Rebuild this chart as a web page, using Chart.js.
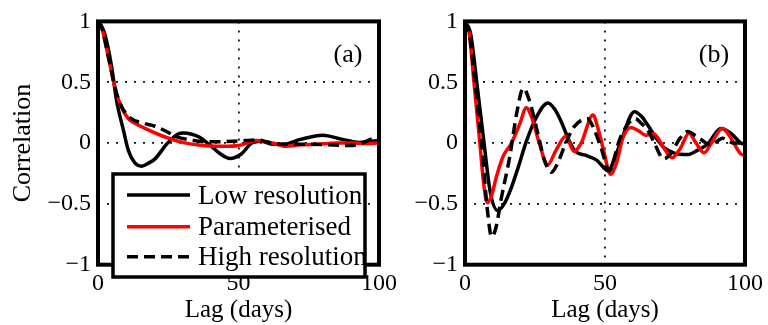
<!DOCTYPE html>
<html lang="en">
<head>
<meta charset="UTF-8">
<title>Correlation vs lag</title>
<script src="https://cdn.jsdelivr.net/npm/chart.js"></script>
<style>
    body { margin: 0; background: #fff; }
    .janela { position: relative; width: 768px; height: 325px; overflow: hidden; }
    #chartA { position: absolute; left: 0; top: 0; }
    #chartB { position: absolute; left: 400px; top: 0; }
</style>
</head>
<body>
<div class="janela">
    <canvas id="chartA" width="420" height="325"></canvas>
    <canvas id="chartB" width="368" height="325"></canvas>
</div>
<script>
    // nomes das series (ordem da legenda)
    const seriesNames = ['Low resolution', 'Parameterised', 'High resolution'];

    // ticks dos eixos
    const xTicks = [0, 50, 100];
    const yTicks = [-1, -0.5, 0, 0.5, 1];
    const yTickText = ['\u22121', '\u22120.5', '0', '0.5', '1'];

    // painel (a)
    const lowLagA = [0, 1.3, 2.5, 4.9, 6.6, 9, 10.8, 13, 15.5, 18, 20.3, 24.4, 28.6, 30.5, 33, 36, 40, 43, 47, 51, 54.7, 58, 62, 66, 72, 80, 87, 93, 100];
    const lowA = [1, 0.96, 0.89, 0.62, 0.35, 0.11, -0.06, -0.16, -0.19, -0.165, -0.13, -0.01, 0.076, 0.082, 0.075, 0.05, -0.02, -0.08, -0.127, -0.09, 0, 0.015, -0.01, -0.01, 0.03, 0.065, 0.03, 0.005, 0.02];

    const redLagA = [0, 1.3, 3.7, 6, 7.8, 10.8, 13, 16.7, 22.7, 28.6, 34.5, 40, 45, 50, 53, 56.5, 62, 67, 72, 78, 85, 90, 95, 100];
    const redA = [1, 0.95, 0.705, 0.46, 0.325, 0.2, 0.165, 0.12, 0.06, 0.014, -0.013, -0.025, -0.027, -0.02, 0, 0.02, 0, -0.027, -0.015, -0.01, 0, 0, -0.005, 0];

    const highLagA = [0, 1.3, 3.7, 6, 7.8, 10.8, 16.7, 20, 24.4, 28, 32.7, 39, 48, 52, 57, 60, 64, 71, 80, 89, 93, 97.4, 100];
    const highA = [1, 0.95, 0.71, 0.46, 0.33, 0.22, 0.16, 0.14, 0.095, 0.05, 0.027, 0.01, 0.014, 0.02, 0.025, 0.01, -0.01, -0.01, -0.012, -0.02, -0.01, 0.035, 0.05];

    // painel (b)
    const lowLagB = [0, 2, 4.2, 6.8, 9, 11.7, 14, 16, 19, 21.7, 25, 29.6, 32, 34.3, 37, 39.5, 43, 47, 51.3, 53, 55.8, 60.5, 63, 65.2, 68, 71.2, 75, 79.5, 83, 86.6, 91.4, 95, 98.5, 100];
    const lowB = [1, 0.9, 0.5, 0, -0.4, -0.555, -0.5, -0.4, -0.2, 0, 0.19, 0.33, 0.28, 0.18, 0.03, -0.07, -0.1, -0.14, -0.23, -0.15, 0.02, 0.258, 0.22, 0.15, 0.05, -0.04, -0.085, -0.095, -0.06, -0.01, 0.12, 0.08, 0, -0.01];

    const redLagB = [0, 1.5, 3.2, 5.3, 6.8, 8, 9.5, 11.3, 13.6, 16.6, 19.6, 21.9, 24, 26.5, 29.5, 32.5, 36, 39, 41.5, 45.7, 47.5, 49.3, 52, 54, 56.5, 59.3, 62, 64.5, 67.5, 71, 74, 77, 80, 82.5, 85.4, 88, 91.9, 95, 98.5, 100];
    const redB = [1, 0.9, 0.5, 0, -0.36, -0.49, -0.43, -0.27, -0.11, 0, 0.16, 0.29, 0.2, 0, -0.18, -0.06, 0.055, -0.07, 0, 0.23, 0.12, -0.04, -0.257, -0.17, 0.05, 0.128, 0.1, 0.065, 0.075, -0.04, -0.12, -0.04, 0.08, 0, -0.08, 0, 0.12, 0.04, -0.09, -0.1];

    const highLagB = [0, 1.5, 3.6, 5.9, 8, 9.5, 11, 13, 16, 18.5, 20.8, 23, 26.1, 28.5, 30.9, 33, 36, 39, 43.8, 46, 48.6, 51.6, 53, 55, 58, 60.9, 63, 65.6, 68, 71, 74, 76.5, 79.5, 83, 87.8, 92, 96, 100];
    const highB = [1, 0.9, 0.5, 0, -0.55, -0.77, -0.7, -0.45, -0.11, 0.25, 0.45, 0.35, 0.07, -0.15, -0.24, -0.17, 0, 0.135, 0.2, 0.12, -0.04, -0.23, -0.15, 0.015, 0.15, 0.2, 0.16, 0.095, -0.02, -0.13, -0.07, 0.03, 0.095, 0.05, -0.015, 0.04, 0, 0];

    Chart.defaults.font.family = "'Liberation Serif', 'Times New Roman', serif";
    Chart.defaults.color = '#000';

    const estilos = [
        { borderColor: '#000000', borderDash: [], order: 2 },
        { borderColor: '#ff0000', borderDash: [], order: 1 },
        { borderColor: '#000000', borderDash: [11, 6], order: 0 }
    ];

    function montarDatasets(lags, valores) {
        return seriesNames.map(function (nome, i) {
            return {
                label: nome,
                data: lags[i].map((x, k) => ({ x: x, y: valores[i][k] })),
                borderColor: estilos[i].borderColor,
                borderDash: estilos[i].borderDash,
                order: estilos[i].order,
                borderWidth: 3.5,
                pointRadius: 0,
                fill: false,
                cubicInterpolationMode: 'monotone'
            };
        });
    }

    // moldura preta grossa + letra do painel
    const moldura = {
        id: 'moldura',
        afterDatasetsDraw(chart, args, opts) {
            const { ctx, chartArea: a } = chart;
            ctx.save();
            ctx.strokeStyle = '#000';
            ctx.lineWidth = 4;
            ctx.strokeRect(a.left, a.top, a.right - a.left, a.bottom - a.top);
            ctx.fillStyle = '#000';
            ctx.font = "26px 'Liberation Serif'";
            ctx.textAlign = 'center';
            ctx.textBaseline = 'middle';
            ctx.fillText(opts.letra, a.right - 31, a.top + 34);
            ctx.restore();
        }
    };

    // legenda desenhada dentro do painel (a)
    const legendaBox = {
        id: 'legendaBox',
        afterDraw(chart, args, opts) {
            if (!opts.mostrar) return;
            const ctx = chart.ctx;
            const x0 = 113, y0 = 174, x1 = 365, y1 = 277;
            const linhas = [195, 226.7, 256.7];
            ctx.save();
            ctx.fillStyle = '#fff';
            ctx.fillRect(x0, y0, x1 - x0, y1 - y0);
            ctx.save();
            ctx.beginPath();
            ctx.rect(x0, y0, x1 - x0, y1 - y0);
            ctx.clip();
            seriesNames.forEach(function (nome, i) {
                ctx.strokeStyle = estilos[i].borderColor;
                ctx.lineWidth = 3.5;
                ctx.setLineDash(estilos[i].borderDash);
                ctx.beginPath();
                ctx.moveTo(127, linhas[i]);
                ctx.lineTo(190, linhas[i]);
                ctx.stroke();
                ctx.setLineDash([]);
                ctx.fillStyle = '#000';
                ctx.font = "27px 'Liberation Serif'";
                ctx.textAlign = 'left';
                ctx.textBaseline = 'alphabetic';
                ctx.fillText(nome, 198, linhas[i] + 8.5);
            });
            ctx.restore();
            ctx.strokeStyle = '#000';
            ctx.lineWidth = 3.5;
            ctx.strokeRect(x0, y0, x1 - x0, y1 - y0);
            ctx.restore();
        }
    };

    function escalas(larguraY, tituloY) {
        return {
            x: {
                type: 'linear',
                min: 0,
                max: 100,
                afterBuildTicks: s => { s.ticks = xTicks.map(v => ({ value: v })); },
                afterFit: s => { s.height = 60.3; },
                ticks: { font: { size: 24 }, color: '#000', padding: 5, maxRotation: 0, callback: v => String(v) },
                grid: { color: '#111', lineWidth: 1.8, drawTicks: false },
                border: { display: false, dash: [2, 7] },
                title: { display: true, text: 'Lag (days)', font: { size: 25 }, color: '#000', padding: { top: 0, bottom: 0 } }
            },
            y: {
                type: 'linear',
                min: -1,
                max: 1,
                afterBuildTicks: s => { s.ticks = yTicks.map(v => ({ value: v })); },
                afterFit: s => { s.width = larguraY; },
                ticks: { font: { size: 24 }, color: '#000', padding: 7, callback: v => yTickText[yTicks.indexOf(v)] },
                grid: { color: '#111', lineWidth: 1.8, drawTicks: false },
                border: { display: false, dash: [2, 7] },
                title: { display: tituloY, text: 'Correlation', font: { size: 26 }, color: '#000', padding: { top: 8, bottom: 0 } }
            }
        };
    }

    function plotarPainel(id, lags, valores, letra, larguraY, tituloY, padDir, comLegenda) {
        return new Chart(document.getElementById(id), {
            type: 'line',
            data: { datasets: montarDatasets(lags, valores) },
            options: {
                responsive: false,
                animation: false,
                devicePixelRatio: 1,
                layout: { padding: { left: 0, top: 18.7, right: padDir, bottom: 0 } },
                scales: escalas(larguraY, tituloY),
                plugins: {
                    legend: { display: false },
                    tooltip: { enabled: false },
                    moldura: { letra: letra },
                    legendaBox: { mostrar: comLegenda }
                }
            },
            plugins: [moldura, legendaBox]
        });
    }

    plotarPainel('chartA', [lowLagA, redLagA, highLagA], [lowA, redA, highA], '(a)', 98, true, 41, true);
    plotarPainel('chartB', [lowLagB, redLagB, highLagB], [lowB, redB, highB], '(b)', 65, false, 22, false);
</script>
</body>
</html>
